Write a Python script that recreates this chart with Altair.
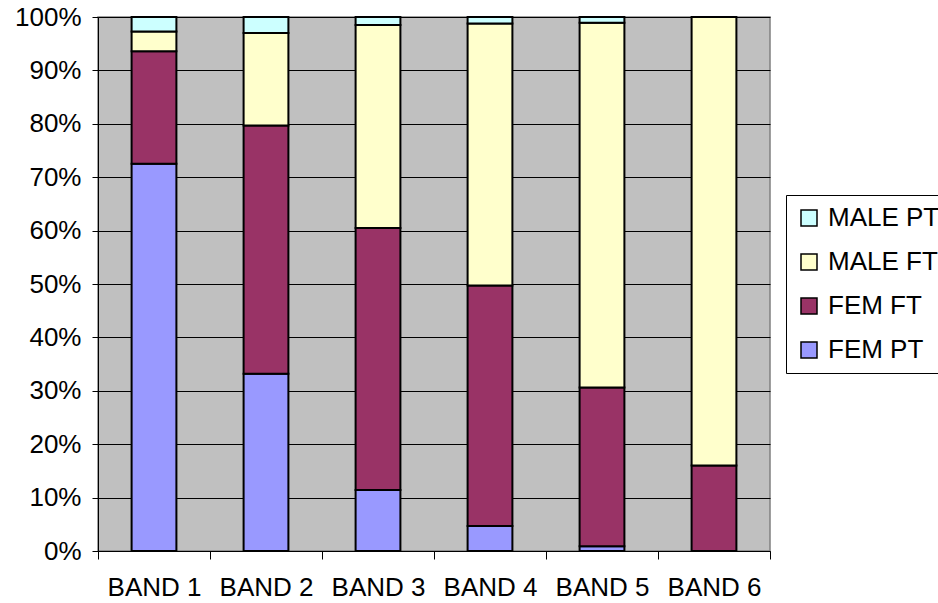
import altair as alt
import pandas as pd

# Share of staff in each pay band, by sex and working pattern (percent)
bands = ["BAND 1", "BAND 2", "BAND 3", "BAND 4", "BAND 5", "BAND 6"]
fem_pt = [72.5, 33.2, 11.4, 4.7, 0.9, 0.0]
fem_ft = [21.1, 46.5, 49.1, 45.0, 29.7, 16.0]
male_ft = [3.7, 17.3, 38.0, 49.1, 68.3, 84.0]
male_pt = [2.7, 3.0, 1.5, 1.2, 1.1, 0.0]

# Stacking order from the bottom up
series = {"FEM PT": fem_pt, "FEM FT": fem_ft, "MALE FT": male_ft, "MALE PT": male_pt}
legend_order = ["MALE PT", "MALE FT", "FEM FT", "FEM PT"]
colors = ["#CCFFFF", "#FFFFCC", "#993366", "#9999FF"]

rows = []
for rank, (name, vals) in enumerate(series.items()):
    for band, v in zip(bands, vals):
        rows.append({"band": band, "group": name, "share": v / 100.0, "rank": rank})
df = pd.DataFrame(rows)

font = "Liberation Sans"

chart = (
    alt.Chart(df)
    .mark_bar(width=alt.RelativeBandSize(0.4), stroke="black", strokeWidth=2)
    .encode(
        x=alt.X(
            "band:N",
            sort=bands,
            title=None,
            scale=alt.Scale(paddingInner=0, paddingOuter=0),
            axis=alt.Axis(
                labelAngle=0,
                labelFont=font,
                labelFontSize=26,
                labelColor="black",
                labelPadding=15,
                tickBand="extent",
                tickSize=8,
                tickColor="black",
                domainColor="black",
                domainWidth=1,
                grid=False,
            ),
        ),
        y=alt.Y(
            "share:Q",
            stack="zero",
            title=None,
            scale=alt.Scale(domain=[0, 1], nice=False),
            axis=alt.Axis(
                values=[i / 10 for i in range(11)],
                format=".0%",
                labelFont=font,
                labelFontSize=26,
                labelColor="black",
                labelPadding=11,
                tickSize=6,
                tickColor="black",
                domainColor="black",
                domainWidth=1,
                grid=True,
                gridColor="black",
                gridWidth=1,
                gridOpacity=1,
            ),
        ),
        color=alt.Color(
            "group:N",
            scale=alt.Scale(domain=legend_order, range=colors),
            legend=alt.Legend(
                title=None,
                orient="none",
                legendX=688,
                legendY=178,
                symbolType="square",
                symbolSize=256,
                symbolStrokeColor="black",
                symbolStrokeWidth=1.5,
                symbolOpacity=1,
                labelFont=font,
                labelFontSize=26,
                labelColor="black",
                labelOffset=6,
                rowPadding=18,
                padding=10,
                strokeColor="black",
                fillColor="white",
            ),
        ),
        order=alt.Order("rank:Q", sort="ascending"),
    )
    .properties(
        width=672,
        height=534,
        autosize=alt.AutoSizeParams(type="none"),
        padding={"left": 98, "top": 17, "right": 168, "bottom": 52},
        background="white",
    )
    .configure_view(fill="#C0C0C0", stroke="#808080", strokeWidth=1.5)
)

chart.save("out.html", embed_options={"renderer": "svg", "actions": False})
